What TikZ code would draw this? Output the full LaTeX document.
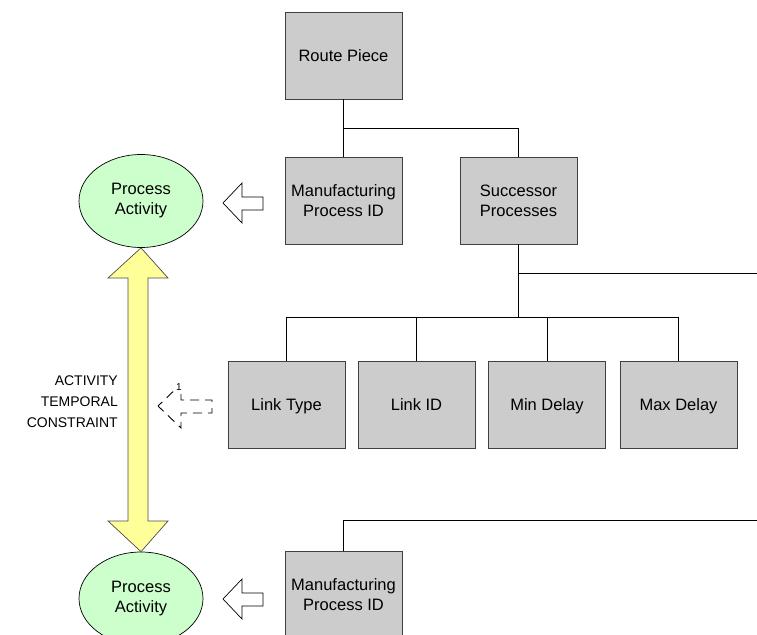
\documentclass[tikz,border=0pt]{standalone}
\usepackage{fontspec}
\setmainfont{Liberation Sans}
\definecolor{boxgray}{RGB}{204,204,204}
\definecolor{actgreen}{RGB}{204,255,204}
\definecolor{arrowyellow}{RGB}{255,255,153}
\definecolor{edgegray}{RGB}{64,64,64}
\tikzset{
  databox/.style={draw=edgegray, fill=boxgray, line width=0.8pt, minimum width=117pt, minimum height=87pt, align=center, font=\fontsize{16.5}{20}\selectfont, inner sep=0pt},
  oneline/.style={text height=12pt, text depth=0pt},
  actnode/.style={ellipse, draw=black, fill=actgreen, line width=0.7pt, minimum width=124pt, minimum height=93pt, align=center, font=\fontsize{16.5}{20}\selectfont, inner sep=0pt},
  link/.style={draw=black, line width=0.8pt},
  hollow/.style={draw=black, fill=white, line width=0.7pt, line join=miter},
}
\usetikzlibrary{shapes.geometric}
\begin{document}
\begin{tikzpicture}[x=1pt, y=-1pt]
\useasboundingbox (0,0) rectangle (757,634);
\clip (0,0) rectangle (757,634);
% boxes
\node[databox, oneline] (route) at (343.5,55.5) {Route Piece};
\node[databox] (mpid) at (343.5,200.5) {Manufacturing\\Process ID};
\node[databox] (succ) at (518.5,200.5) {Successor\\Processes};
\node[databox, oneline] (ltype) at (286.5,404.5) {Link Type};
\node[databox, oneline] (lid) at (416.5,404.5) {Link ID};
\node[databox, oneline] (mind) at (547,404.5) {Min Delay};
\node[databox, oneline] (maxd) at (678.5,404.5) {Max Delay};
\node[databox] (mpid2) at (343.5,594.5) {Manufacturing\\Process ID};
% ellipses
\node[actnode] (act1) at (141,201) {Process\\Activity};
\node[actnode] (act2) at (141,598.5) {Process\\Activity};
% connectors
\coordinate (j1) at (343.5,128);
\coordinate (j2) at (518.5,273);
\coordinate (r1) at (757,273);
\coordinate (j3) at (518.5,317);
\coordinate (r2) at (757,520);
\coordinate (j4) at (343.5,520);
\draw[link] (route.south) -- (mpid.north);
\draw[link] (j1) -| (succ.north);
\draw[link] (succ.south) -- (j3);
\draw[link] (j2) -- (r1);
\draw[link] (j3) -| (ltype.north);
\draw[link] (j3) -| (lid.north);
\draw[link] (j3) -| (mind.north);
\draw[link] (j3) -| (maxd.north);
\draw[link] (r2) -- (j4) -- (mpid2.north);
% hollow arrows
\draw[hollow] (223,203) -- (242,183) -- (242,197) -- (263,197) -- (263,210) -- (242,210) -- (242,223) -- cycle;
\draw[hollow] (223,599) -- (242,579) -- (242,593) -- (263,593) -- (263,606) -- (242,606) -- (242,619) -- cycle;
% yellow double arrow
\draw[draw=black!70, fill=arrowyellow, line width=0.7pt, line join=miter]
  (act1.south) -- (168,278) -- (148,278) -- (148,521) -- (168,521) -- (act2.north)
  -- (108,521) -- (128,521) -- (128,278) -- (108,278) -- cycle;
% dashed arrow
\draw[black, line width=0.9pt, dash pattern=on 9pt off 6pt, dash phase=3pt]
  (158,406) -- (181,384) -- (181,400) -- (212,400) -- (212,413) -- (181,413) -- (181,428) -- cycle;
\node[font=\fontsize{10}{11}\selectfont, fill=white, inner sep=0.5pt] (one) at (179,387) {1};
% side label
\node[align=right, anchor=east, font=\fontsize{14}{21}\selectfont, inner sep=0pt] (atc) at (118,402) {ACTIVITY\\TEMPORAL\\CONSTRAINT};
\end{tikzpicture}
\end{document}
